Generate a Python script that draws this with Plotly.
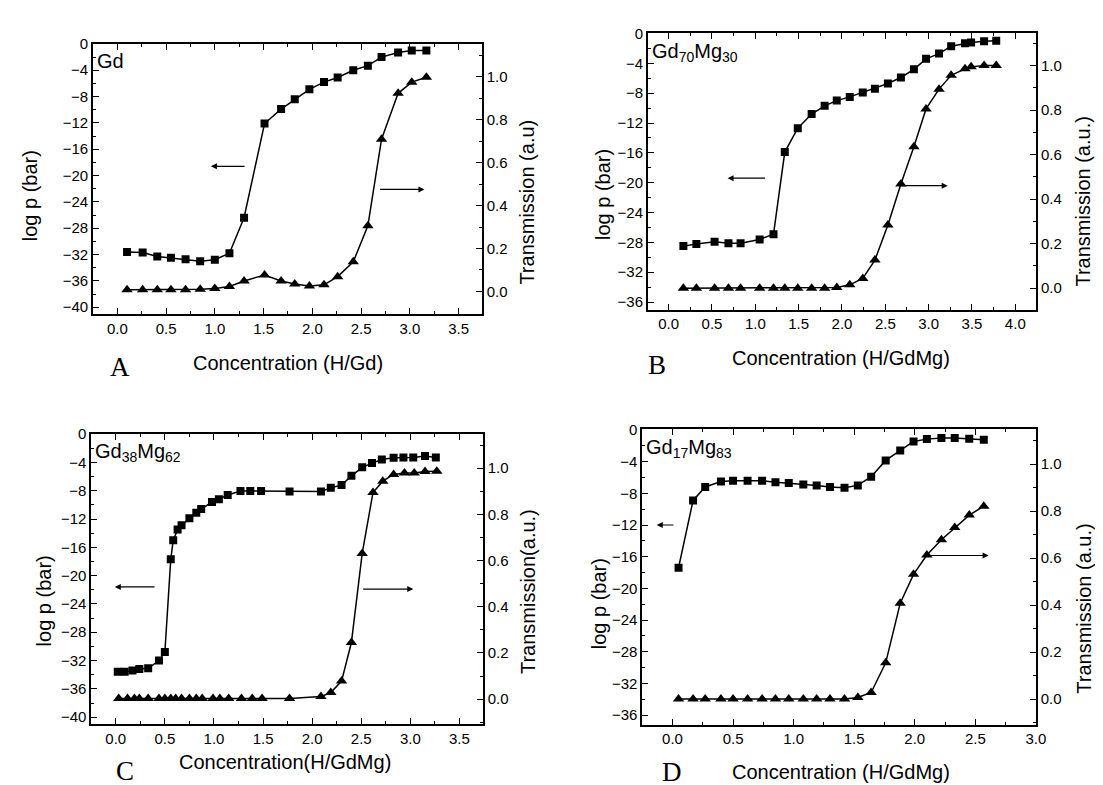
import plotly.graph_objects as go

W, H = 1103, 785

# ---------------- data ----------------
# Panel A : Gd
a_x = [0.10, 0.26, 0.41, 0.55, 0.70, 0.85, 1.00, 1.15, 1.30, 1.51, 1.68, 1.82, 1.97, 2.12, 2.26, 2.42, 2.57, 2.71, 2.88, 3.02, 3.17]
a_logp = [-31.6, -31.7, -32.3, -32.5, -32.7, -33.0, -32.8, -31.8, -26.4, -12.1, -9.9, -8.4, -6.9, -5.8, -5.1, -4.0, -3.3, -2.0, -1.3, -1.0, -1.0]
a_trans = [0.008, 0.008, 0.008, 0.008, 0.008, 0.010, 0.014, 0.023, 0.049, 0.077, 0.049, 0.035, 0.026, 0.031, 0.069, 0.138, 0.306, 0.709, 0.923, 0.975, 0.998]

# Panel B : Gd70Mg30
b_x = [0.17, 0.32, 0.53, 0.69, 0.83, 1.05, 1.21, 1.34, 1.49, 1.65, 1.80, 1.94, 2.09, 2.24, 2.38, 2.53, 2.68, 2.83, 2.97, 3.12, 3.26, 3.42, 3.49, 3.64, 3.78]
b_logp = [-28.5, -28.2, -27.9, -28.1, -28.1, -27.6, -26.9, -15.9, -12.7, -10.8, -9.7, -9.0, -8.5, -7.9, -7.4, -6.7, -5.9, -4.8, -3.4, -2.7, -1.7, -1.3, -1.2, -1.05, -0.97]
b_trans = [0.0, 0.0, 0.0, 0.0, 0.0, 0.0, 0.0, 0.0, 0.0, 0.0, 0.0, 0.003, 0.015, 0.044, 0.126, 0.284, 0.468, 0.635, 0.805, 0.894, 0.956, 0.985, 0.994, 1.0, 1.0]

# Panel C : Gd38Mg62
c_x_p = [0.02, 0.09, 0.17, 0.24, 0.33, 0.44, 0.50, 0.56, 0.585, 0.63, 0.67, 0.75, 0.82, 0.87, 0.98, 1.05, 1.14, 1.27, 1.37, 1.48, 1.77, 2.09, 2.19, 2.30, 2.40, 2.51, 2.61, 2.71, 2.83, 2.93, 3.03, 3.15, 3.26]
c_logp = [-33.6, -33.6, -33.4, -33.2, -33.1, -32.0, -30.8, -17.7, -15.0, -13.5, -12.9, -11.9, -11.1, -10.6, -9.6, -9.2, -8.6, -8.05, -8.05, -8.05, -8.1, -8.1, -7.6, -7.2, -5.9, -4.7, -4.1, -3.6, -3.35, -3.3, -3.3, -3.1, -3.3]
c_x_t = [0.03, 0.12, 0.19, 0.24, 0.33, 0.44, 0.50, 0.56, 0.61, 0.67, 0.75, 0.82, 0.88, 0.99, 1.06, 1.15, 1.28, 1.39, 1.49, 1.77, 2.09, 2.19, 2.30, 2.40, 2.51, 2.62, 2.72, 2.83, 2.94, 3.04, 3.15, 3.27]
c_trans = [0.003, 0.003, 0.003, 0.003, 0.003, 0.003, 0.003, 0.003, 0.003, 0.003, 0.003, 0.003, 0.003, 0.003, 0.003, 0.003, 0.003, 0.003, 0.003, 0.003, 0.011, 0.028, 0.078, 0.245, 0.631, 0.895, 0.944, 0.973, 0.979, 0.979, 0.986, 0.987]

# Panel D : Gd17Mg83
d_x = [0.05, 0.17, 0.27, 0.40, 0.50, 0.62, 0.74, 0.85, 0.96, 1.08, 1.19, 1.30, 1.42, 1.53, 1.64, 1.76, 1.88, 1.99, 2.10, 2.22, 2.33, 2.45, 2.57]
d_logp = [-17.4, -8.9, -7.2, -6.5, -6.4, -6.4, -6.4, -6.6, -6.7, -6.9, -7.0, -7.2, -7.3, -7.0, -5.9, -3.85, -2.6, -1.45, -1.16, -1.03, -1.03, -1.1, -1.24]
d_trans = [0.0, 0.0, 0.0, 0.0, 0.0, 0.0, 0.0, 0.0, 0.0, 0.0, 0.0, 0.0, 0.0, 0.007, 0.028, 0.154, 0.408, 0.531, 0.613, 0.678, 0.730, 0.783, 0.821]

compositions = ["Gd", "Gd<sub>70</sub>Mg<sub>30</sub>", "Gd<sub>38</sub>Mg<sub>62</sub>", "Gd<sub>17</sub>Mg<sub>83</sub>"]
x_titles = ["Concentration (H/Gd)", "Concentration (H/GdMg)", "Concentration(H/GdMg)", "Concentration (H/GdMg)"]
right_titles = ["Transmission (a.u)", "Transmission (a.u.)", "Transmission(a.u.)", "Transmission (a.u.)"]
letters = ["A", "B", "C", "D"]

# arrows (tail x, head x, y) in left-axis data units
arrow_left = [(1.32, 0.96, -18.6), (1.13, 0.68, -19.4), (0.41, -0.01, -21.6), (0.02, -0.13, -12.0)]
arrow_right = [(2.68, 3.15, -22.1), (2.68, 3.22, -20.4), (2.505, 3.03, -21.9), (2.12, 2.61, -15.85)]

# ---------------- layout geometry (pixels) ----------------
boxes = [  # left, right, top, bottom
    (85.7, 478.3, 27.3, 301.0),
    (645.7, 1037.5, 16.7, 296.7),
    (84.0, 479.3, 423.0, 717.3),
    (640.0, 1037.3, 418.0, 717.7),
]
xranges = [[-0.25, 3.74], [-0.24, 4.24], [-0.25, 3.74], [-0.25, 3.0]]
lranges = [[-41.0, 0.0], [-37.0, 0.0], [-41.0, 0.0], [-37.2, 0.1]]
rranges = [[-0.104, 1.153], [-0.096, 1.144], [-0.109, 1.148], [-0.109, 1.149]]
lticks = [(-40, 4), (-36, 4), (-40, 4), (-36, 4)]

xtitle_pos = [(283, 351), (841, 346), (280, 756), (841, 766)]
ltitle_pos = [(23, 181), (601, 180), (36, 592), (596, 595)]
rtitle_pos = [(524, 188), (1085, 187), (525, 583), (1085, 600)]
letter_pos = [(113, 355), (655, 353), (118, 765), (670, 766)]

FONT = "Liberation Sans, Arial, sans-serif"
datasets = [
    (a_x, a_logp, a_x, a_trans),
    (b_x, b_logp, b_x, b_trans),
    (c_x_p, c_logp, c_x_t, c_trans),
    (d_x, d_logp, d_x, d_trans),
]

fig = go.Figure()
layout = dict(
    width=W, height=H, margin=dict(l=0, r=0, t=0, b=0),
    paper_bgcolor="white", plot_bgcolor="white", showlegend=False,
    font=dict(family=FONT, size=15, color="black"),
)
annotations = []

def px(xp):
    return xp / W

def py(yp):
    return 1 - yp / H

for i in range(4):
    xa = "x" if i == 0 else f"x{i+1}"
    yl = f"y{2*i+1}" if i > 0 else "y"
    yr = f"y{2*i+2}"
    xkey = "xaxis" if i == 0 else f"xaxis{i+1}"
    ylkey = "yaxis" if i == 0 else f"yaxis{2*i+1}"
    yrkey = f"yaxis{2*i+2}"
    l, r, t, b = boxes[i]
    xs, ps, xt, ts = datasets[i]

    fig.add_trace(go.Scatter(x=xs, y=ps, xaxis=xa, yaxis=yl, mode="lines+markers",
                             line=dict(color="black", width=1.5),
                             marker=dict(symbol="square", size=8, color="black")))
    fig.add_trace(go.Scatter(x=xt, y=ts, xaxis=xa, yaxis=yr, mode="lines+markers",
                             line=dict(color="black", width=1.5),
                             marker=dict(symbol="triangle-up", size=10, color="black")))

    layout[xkey] = dict(
        domain=[px(l), px(r)], range=xranges[i], anchor=yl,
        showline=True, linecolor="black", linewidth=1.6, mirror="ticks",
        ticks="inside", ticklen=6, tickwidth=1.4, tickcolor="black",
        tick0=0, dtick=0.5, tickformat=".1f", showgrid=False, zeroline=False,
        minor=dict(ticks="inside", ticklen=3, dtick=0.25, tickcolor="black", tickwidth=1.2, showgrid=False),
        tickfont=dict(size=15, family=FONT),
    )
    layout[ylkey] = dict(
        domain=[py(b), py(t)], range=lranges[i], anchor=xa,
        showline=True, linecolor="black", linewidth=1.6,
        ticks="inside", ticklen=6, tickwidth=1.4, tickcolor="black",
        tick0=lticks[i][0], dtick=lticks[i][1], showgrid=False, zeroline=False,
        minor=dict(ticks="inside", ticklen=3, dtick=2, tickcolor="black", tickwidth=1.2, showgrid=False),
        tickfont=dict(size=15, family=FONT),
    )
    layout[yrkey] = dict(
        overlaying=yl, side="right", range=rranges[i], anchor=xa,
        showline=True, linecolor="black", linewidth=1.6,
        ticks="inside", ticklen=6, tickwidth=1.4, tickcolor="black",
        tick0=0, dtick=0.2, tickformat=".1f", showgrid=False, zeroline=False,
        minor=dict(ticks="inside", ticklen=3, dtick=0.1, tickcolor="black", tickwidth=1.2, showgrid=False),
        tickfont=dict(size=15, family=FONT),
    )

    # composition label
    annotations.append(dict(text=compositions[i], xref=f"{xa} domain", yref=f"{yl} domain",
                            x=0.005, y=0.985, xanchor="left", yanchor="top", showarrow=False,
                            font=dict(size=20, family=FONT)))
    # titles
    annotations.append(dict(text=x_titles[i], xref="paper", yref="paper",
                            x=px(xtitle_pos[i][0]), y=py(xtitle_pos[i][1]),
                            xanchor="center", yanchor="middle", showarrow=False,
                            font=dict(size=20, family=FONT)))
    annotations.append(dict(text="log p (bar)", xref="paper", yref="paper",
                            x=px(ltitle_pos[i][0]), y=py(ltitle_pos[i][1]), textangle=-90,
                            xanchor="center", yanchor="middle", showarrow=False,
                            font=dict(size=20, family=FONT)))
    annotations.append(dict(text=right_titles[i], xref="paper", yref="paper",
                            x=px(rtitle_pos[i][0]), y=py(rtitle_pos[i][1]), textangle=-90,
                            xanchor="center", yanchor="middle", showarrow=False,
                            font=dict(size=20, family=FONT)))
    annotations.append(dict(text=letters[i], xref="paper", yref="paper",
                            x=px(letter_pos[i][0]), y=py(letter_pos[i][1]),
                            xanchor="center", yanchor="middle", showarrow=False,
                            font=dict(size=27, family="Liberation Serif, Times New Roman, serif")))
    # arrows
    for (tx, hx, ay) in (arrow_left[i], arrow_right[i]):
        annotations.append(dict(text="", x=hx, y=ay, ax=tx, ay=ay, xref=xa, yref=yl,
                                axref=xa, ayref=yl, showarrow=True, arrowhead=2,
                                arrowsize=1, arrowwidth=1.2, arrowcolor="black"))

layout["annotations"] = annotations
fig.update_layout(**layout)
fig.write_html("out.html")
